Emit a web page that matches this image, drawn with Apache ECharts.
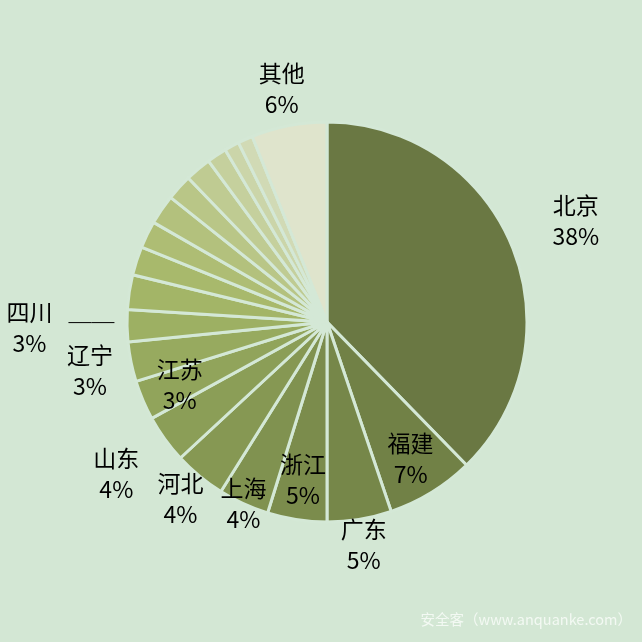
<!DOCTYPE html>
<html>
<head>
<meta charset="utf-8">
<script src="https://cdn.jsdelivr.net/npm/echarts@6/dist/echarts.min.js"></script>
<style>
  html, body { margin: 0; padding: 0; background: #d3e7d4; }
  #chart { width: 642px; height: 642px; }
</style>
</head>
<body>
<div id="chart"></div>
<script>
// 各地区占比（顺时针，从 12 点方向开始）
const regions = ['北京', '福建', '广东', '浙江', '上海', '河北', '山东', '江苏', '辽宁', '四川',
  '湖北', '陕西', '湖南', '河南', '重庆', '天津', '安徽', '黑龙江', '吉林', '其他']
const shares = [37.7, 7.1, 5.2, 4.8, 4.1, 4.2, 3.9, 3.2, 3.2, 2.6,
  2.8, 2.3, 2.2, 2.4, 2.1, 2.1, 1.6, 1.2, 1.2, 6.1]

// 样式：颜色、标签离圆心的距离（半径的倍数，null 表示不显示）
const colors = ['#6a7843', '#718146', '#768749', '#7b8c4c', '#809250', '#869853', '#8b9e57',
  '#91a45b', '#97aa5f', '#9db063', '#a3b567', '#a8b96c', '#aebd74', '#b3c17d', '#b9c687',
  '#bfcb92', '#c5d09d', '#cbd5a9', '#d1dab5', '#dfe4cc']
const labelRadius = [1.343, 0.8, 1.129, 0.8, 1.0, 1.149, 1.299, 0.8, 1.209, 1.488,
  null, null, null, null, null, null, null, null, null, 1.189]

const CX = 327
const CY = 322
const R = 200

const total = shares.reduce((a, b) => a + b, 0)
const midAngles = []
let acc = 0
shares.forEach(v => {
  midAngles.push((acc + v / 2) / total * Math.PI * 2)
  acc += v
})

const chart = echarts.init(document.getElementById('chart'))

const options = {
  backgroundColor: '#d3e7d4',
  animation: false,
  title: {
    text: '安全客（www.anquanke.com）',
    right: 5,
    bottom: 10,
    textStyle: {
      color: '#f3f9f3',
      fontSize: 14.5,
      fontWeight: 'normal',
      fontFamily: 'Noto Sans CJK SC'
    }
  },
  series: [
    {
      type: 'pie',
      center: [CX, CY],
      radius: R,
      startAngle: 90,
      clockwise: true,
      avoidLabelOverlap: false,
      silent: true,
      itemStyle: {
        borderColor: '#d4e8d6',
        borderWidth: 3
      },
      label: {
        show: true,
        position: 'outside',
        color: '#000',
        fontSize: 23,
        lineHeight: 31,
        fontFamily: 'Noto Sans CJK SC',
        formatter: p => p.name + '\n' + Math.round(p.percent) + '%'
      },
      labelLine: { show: false },
      labelLayout: p => {
        const k = labelRadius[p.dataIndex]
        if (k == null) return {}
        const a = midAngles[p.dataIndex]
        const x = CX + R * k * Math.sin(a)
        const y = CY - R * k * Math.cos(a)
        const res = { x: x, y: y, align: 'center', verticalAlign: 'middle' }
        if (regions[p.dataIndex] === '四川') {
          res.labelLinePoints = [[x + 39, y - 5], [x + 62, y - 5], [x + 85, y - 5]]
        }
        return res
      },
      data: regions.map((name, i) => ({
        name: name,
        value: shares[i],
        itemStyle: { color: colors[i] },
        label: { show: labelRadius[i] != null },
        labelLine: name === '四川'
          ? { show: true, lineStyle: { color: '#000', width: 1 } }
          : { show: false }
      }))
    }
  ]
}

chart.setOption(options)
</script>
</body>
</html>
